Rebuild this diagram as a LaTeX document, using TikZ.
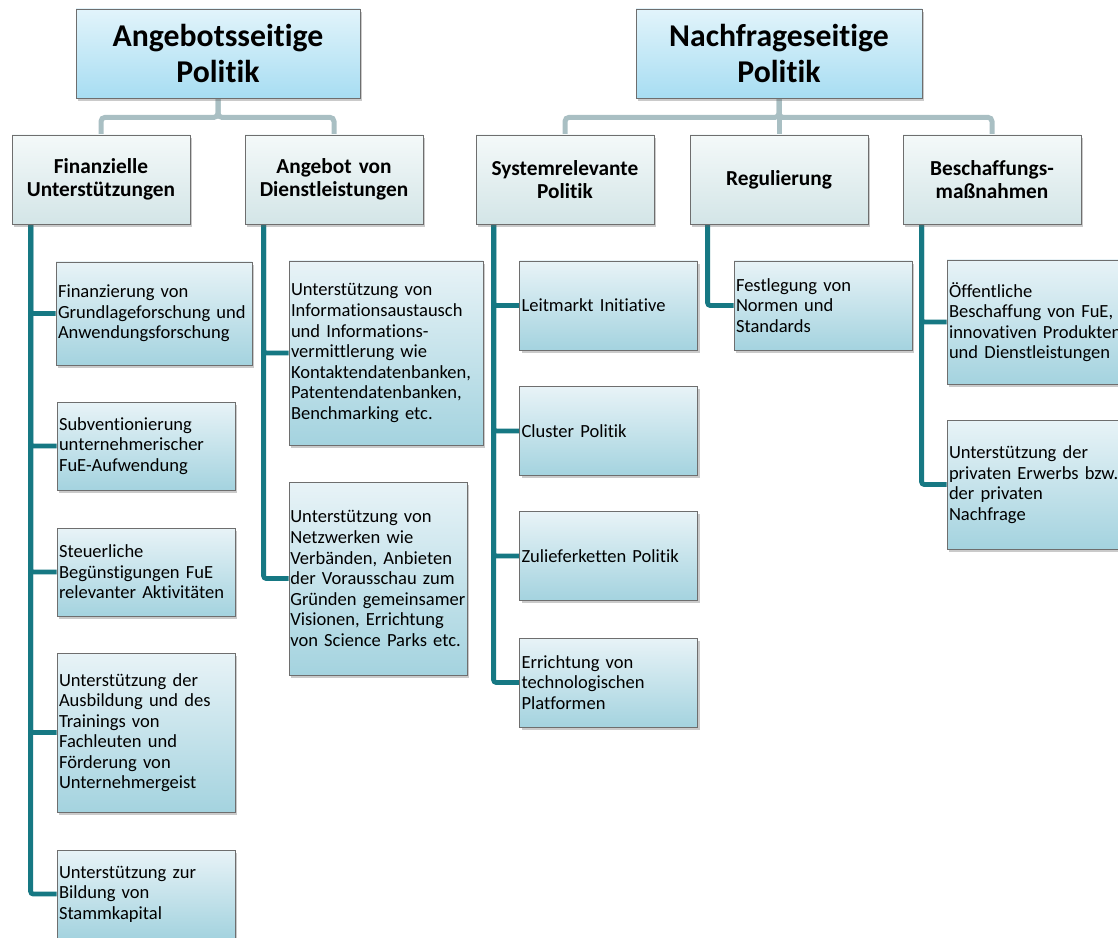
\documentclass[tikz,border=0pt]{standalone}
\usepackage{fontspec}
\setmainfont{Carlito}[Ligatures={NoCommon}]
\usetikzlibrary{shadows,calc}
\hyphenpenalty=10000
\exhyphenpenalty=10000
\definecolor{bargray}{HTML}{A9BFC3}
\definecolor{stemteal}{HTML}{167883}
\definecolor{boxline}{HTML}{6E6E6E}
\definecolor{topA}{HTML}{E2F4FB}
\definecolor{topB}{HTML}{A7DDF2}
\definecolor{midA}{HTML}{F4F9F9}
\definecolor{midB}{HTML}{D3E5E7}
\definecolor{leafA}{HTML}{E8F3F7}
\definecolor{leafB}{HTML}{A4D3DF}
\pgfdeclarelayer{bg}
\pgfsetlayers{bg,main}
\tikzstyle{boxbase}=[draw=boxline, line width=0.6pt, inner ysep=0pt, inner xsep=1.5pt,
  drop shadow={shadow xshift=1.6pt, shadow yshift=-2pt, opacity=0.35, fill=black!60}]
\tikzstyle{topbox}=[boxbase, top color=topA, bottom color=topB, align=center,
  minimum height=66.75pt, font=\fontsize{23.8}{26.3}\selectfont\bfseries]
\tikzstyle{midbox}=[boxbase, top color=midA, bottom color=midB, align=center,
  text width=130.5pt, minimum height=66.75pt, font=\fontsize{16}{17.5}\selectfont\bfseries]
\tikzstyle{leafbox}=[boxbase, top color=leafA, bottom color=leafB, align=left,
  text width=130.5pt, minimum height=66pt, font=\fontsize{13.9}{15.4}\selectfont]
\tikzstyle{barwire}=[-, color=bargray, line width=3.75pt, rounded corners=3pt]
\tikzstyle{stemwire}=[-, color=stemteal, line width=3.6pt, rounded corners=2pt]

\begin{document}
\begin{tikzpicture}[x=0.75pt, y=-0.75pt]
    \useasboundingbox (0,0) rectangle (1118,938);

    \node [topbox, minimum width=213pt] (ang) at (218, 53.5) {Angebotsseitige\\Politik};
    \node [topbox, minimum width=214.5pt] (nach) at (779, 53.5) {Nachfrageseitige\\Politik};

    \node [midbox] (fin) at (101, 179.5) {Finanzielle\\Unterstützungen};
    \node [midbox] (dienst) at (334, 179.5) {Angebot von\\Dienstleistungen};
    \node [midbox] (sys) at (565, 179.5) {Systemrelevante\\Politik};
    \node [midbox] (reg) at (779, 179.5) {Regulierung};
    \node [midbox] (besch) at (992, 179.5) {Beschaffungs-\\maßnahmen};

    \node [leafbox, text width=144pt, minimum height=77.25pt] (fin1) at (154, 313.5)
      {Finanzierung von\\Grundlageforschung und\\Anwendungsforschung};
    \node [leafbox] (fin2) at (146, 446)
      {Subventionierung\\unternehmerischer\\FuE-Aufwendung};
    \node [leafbox] (fin3) at (146, 572)
      {Steuerliche\\Begünstigungen FuE\\relevanter Aktivitäten};
    \node [leafbox, minimum height=119.25pt] (fin4) at (146, 732.5)
      {Unterstützung der\\Ausbildung und des\\Trainings von\\Fachleuten und\\Förderung von\\Unternehmergeist};
    \node [leafbox] (fin5) at (146, 894)
      {Unterstützung zur\\Bildung von\\Stammkapital};

    \node [leafbox, text width=142.5pt, minimum height=138pt] (dienst1) at (386, 353)
      {Unterstützung von\\Informationsaustausch\\und Informations-\\vermittlerung wie\\Kontaktendatenbanken,\\Patentendatenbanken,\\Benchmarking etc.};
    \node [leafbox, inner xsep=1pt, text width=131.5pt, minimum height=144.75pt] (dienst2) at (378, 578.5)
      {Unterstützung von\\Netzwerken wie\\Verbänden, Anbieten\\der Vorausschau zum\\Gründen gemeinsamer\\Visionen, Errichtung\\von Science Parks etc.};

    \node [leafbox, minimum height=66.75pt] (sys1) at (608.5, 305.5) {Leitmarkt Initiative};
    \node [leafbox, minimum height=66.75pt] (sys2) at (608.5, 431) {Cluster Politik};
    \node [leafbox, minimum height=66.75pt] (sys3) at (608.5, 556) {Zulieferketten Politik};
    \node [leafbox, minimum height=66.75pt] (sys4) at (608.5, 682.5)
      {Errichtung von\\technologischen\\Platformen};

    \node [leafbox, minimum height=66.75pt] (reg1) at (823, 305.5)
      {Festlegung von\\Normen und\\Standards};

    \node [leafbox, minimum height=93pt] (besch1) at (1036, 322)
      {Öffentliche\\Beschaffung von FuE,\\innovativen Produkten\\und Dienstleistungen};
    \node [leafbox, minimum height=96.75pt] (besch2) at (1036, 484.5)
      {Unterstützung der\\privaten Erwerbs bzw.\\der privaten\\Nachfrage};

    \begin{pgfonlayer}{bg}
        \draw [barwire] (ang.south) -- ++(0,19) -| (fin.north);
        \draw [barwire] (ang.south) -- ++(0,19) -| (dienst.north);
        \draw [barwire] (nach.south) -- ++(0,19) -| (sys.north);
        \draw [barwire] (nach.south) -- (reg.north);
        \draw [barwire] (nach.south) -- ++(0,19) -| (besch.north);

        \foreach \leaf in {fin1,fin2,fin3,fin4,fin5}
            \draw [stemwire] ($(fin.south west)+(19,0)$) |- (\leaf.west);
        \foreach \leaf in {dienst1,dienst2}
            \draw [stemwire] ($(dienst.south west)+(19,0)$) |- (\leaf.west);
        \foreach \leaf in {sys1,sys2,sys3,sys4}
            \draw [stemwire] ($(sys.south west)+(18,0)$) |- (\leaf.west);
        \draw [stemwire] ($(reg.south west)+(18,0)$) |- (reg1.west);
        \foreach \leaf in {besch1,besch2}
            \draw [stemwire] ($(besch.south west)+(19,0)$) |- (\leaf.west);
    \end{pgfonlayer}
\end{tikzpicture}
\end{document}
